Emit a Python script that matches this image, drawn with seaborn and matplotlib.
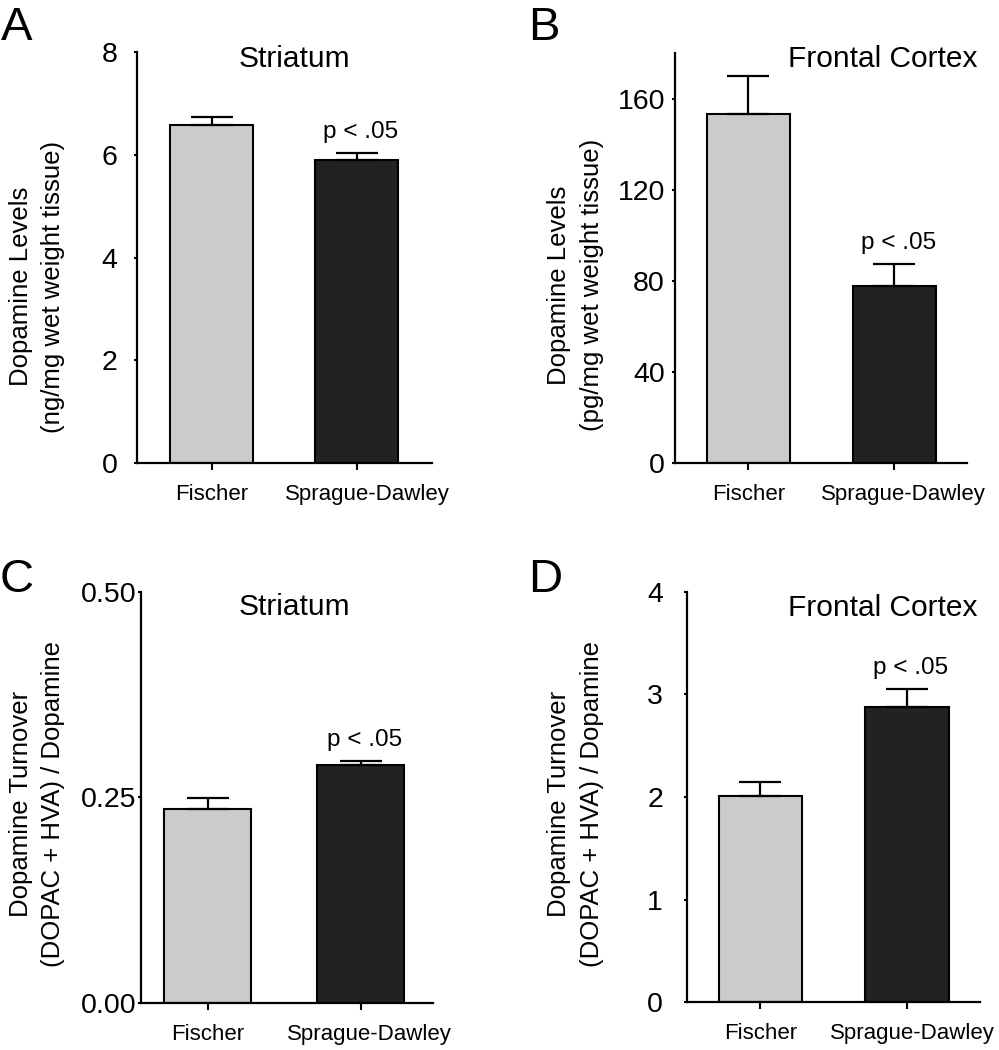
import matplotlib
matplotlib.use("Agg")
from matplotlib import pyplot as plt
from matplotlib.transforms import ScaledTranslation
import seaborn as sns
import pandas as pd

# strains compared in every panel
strains = ["Fischer", "Sprague-Dawley"]

# A: striatal dopamine (ng/mg)
da_striatum = [6.58, 5.90]
da_striatum_sem = [0.16, 0.14]
# B: frontal cortex dopamine (pg/mg)
da_frontal = [153.4, 77.8]
da_frontal_sem = [16.3, 9.7]
# C: striatal turnover
to_striatum = [0.236, 0.2895]
to_striatum_sem = [0.0134, 0.005]
# D: frontal cortex turnover
to_frontal = [2.01, 2.88]
to_frontal_sem = [0.137, 0.176]

sig_label = "p < .05"

sns.set_style("ticks")
plt.rcParams["font.family"] = ["Liberation Sans", "DejaVu Sans"]
plt.rcParams["text.color"] = "black"
plt.rcParams["axes.labelcolor"] = "black"

bar_colors = ["#cbcbcb", "#222222"]

fig = plt.figure(figsize=(9.99, 10.5), dpi=100)

panels = [
    dict(letter="A", title="Striatum", vals=da_striatum, sem=da_striatum_sem,
         ylabel="Dopamine Levels\n(ng/mg wet weight tissue)",
         rect=[0.137, 0.559, 0.295, 0.391], ylim=(0, 8), yticks=[0, 2, 4, 6, 8],
         fmt="{:g}", xlim=(-0.517, 1.517), ypad=11.5, sd_shift=8,
         title_pos=(0.536, 0.983), label_pos=(-0.339, 0.43), letter_pos=(0.001, 0.962)),
    dict(letter="B", title="Frontal Cortex", vals=da_frontal, sem=da_frontal_sem,
         ylabel="Dopamine Levels\n(pg/mg wet weight tissue)",
         rect=[0.676, 0.559, 0.292, 0.3905], ylim=(0, 180), yticks=[0, 40, 80, 120, 160],
         fmt="{:g}", xlim=(-0.5, 1.5), ypad=5, sd_shift=7,
         title_pos=(0.712, 0.985), label_pos=(-0.342, 0.434), letter_pos=(0.529, 0.962)),
    dict(letter="C", title="Striatum", vals=to_striatum, sem=to_striatum_sem,
         ylabel="Dopamine Turnover\n(DOPAC + HVA) / Dopamine",
         rect=[0.141, 0.0448, 0.292, 0.3914], ylim=(0, 0.5), yticks=[0, 0.25, 0.5],
         fmt="{:.2f}", xlim=(-0.438, 1.47), ypad=0.8, sd_shift=6,
         title_pos=(0.527, 0.963), label_pos=(-0.356, 0.484), letter_pos=(0.0, 0.4362)),
    dict(letter="D", title="Frontal Cortex", vals=to_frontal, sem=to_frontal_sem,
         ylabel="Dopamine Turnover\n(DOPAC + HVA) / Dopamine",
         rect=[0.688, 0.0457, 0.293, 0.3905], ylim=(0, 4), yticks=[0, 1, 2, 3, 4],
         fmt="{:g}", xlim=(-0.5, 1.5), ypad=15, sd_shift=4,
         title_pos=(0.669, 0.961), label_pos=(-0.382, 0.483), letter_pos=(0.529, 0.4362)),
]

for p in panels:
    ax = fig.add_axes(p["rect"])
    df = pd.DataFrame({"strain": strains, "value": p["vals"]})
    sns.barplot(data=df, x="strain", y="value", hue="strain", palette=bar_colors,
                legend=False, width=0.57, edgecolor="black", linewidth=1.5, ax=ax)
    # one-sided SEM bars
    ax.errorbar([0, 1], p["vals"], yerr=[[0, 0], p["sem"]], fmt="none",
                ecolor="black", elinewidth=1.6, capsize=15, capthick=1.6, zorder=5)
    ax.annotate(sig_label, xy=(1, p["vals"][1] + p["sem"][1]), xytext=(3, 15),
                textcoords="offset points", ha="center", va="center", fontsize=17.5)

    ax.set_ylim(*p["ylim"])
    ax.set_xlim(*p["xlim"])
    ax.set_yticks(p["yticks"])
    ax.set_yticklabels([p["fmt"].format(t) for t in p["yticks"]])
    ax.set_xlabel("")
    ax.set_ylabel(p["ylabel"], fontsize=18.5, linespacing=1.45, va="center")
    ax.yaxis.set_label_coords(*p["label_pos"])
    sns.despine(ax=ax)
    for side in ["left", "bottom"]:
        ax.spines[side].set_linewidth(1.6)
        ax.spines[side].set_color("black")
    ax.tick_params(axis="y", length=2.5, width=1.5, pad=p["ypad"], labelsize=20.5, colors="black")
    ax.tick_params(axis="x", length=5, width=1.5, pad=10, labelsize=16, colors="black")
    # Sprague-Dawley label sits a bit right of its tick
    xlabels = ax.get_xticklabels()
    shift = ScaledTranslation(p["sd_shift"] / 72, 0, fig.dpi_scale_trans)
    xlabels[1].set_transform(xlabels[1].get_transform() + shift)

    ax.text(*p["title_pos"], p["title"], transform=ax.transAxes, ha="center", va="center",
            fontsize=21.5)
    fig.text(*p["letter_pos"], p["letter"], ha="left", va="baseline", fontsize=34)

fig.savefig("out.png", dpi=100)
